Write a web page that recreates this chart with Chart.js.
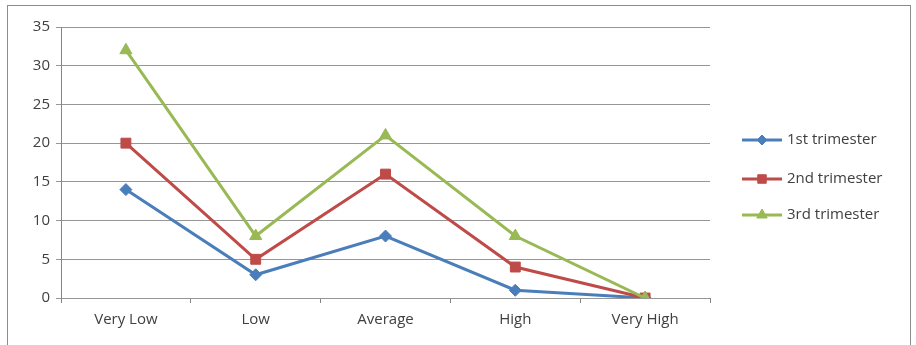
<!DOCTYPE html>
<html>
<head>
<meta charset="utf-8">
<script src="https://cdn.jsdelivr.net/npm/chart.js@4"></script>
<style>
  html, body { margin:0; padding:0; background:#fff; }
  #wrap { position:relative; width:916px; height:345px; }
  #frame { position:absolute; left:7px; top:5px; width:904px; height:345px; border:1px solid #8c8c8c; border-bottom:none; box-sizing:border-box; }
  canvas { position:absolute; left:0; top:0; }
</style>
</head>
<body>
<div id="wrap">
  <div id="frame"></div>
  <canvas id="chart" width="916" height="345"></canvas>
</div>
<script>
// Chart data
const categories = ['Very Low', 'Low', 'Average', 'High', 'Very High'];
const seriesNames = ['1st trimester', '2nd trimester', '3rd trimester'];
const firstTrimester = [14, 3, 8, 1, 0];
const secondTrimester = [20, 5, 16, 4, 0];
const thirdTrimester = [32, 8, 21, 8, 0];
const yTicks = [0, 5, 10, 15, 20, 25, 30, 35];

const colors = ['#4a7ebb', '#be4b48', '#98b954'];
const markers = ['rectRot', 'rect', 'triangle'];
const markerSizes = [6, 7, 7];

const FONT = '"Open Sans", Lato, sans-serif';

// Draws the legend on the right: short line with marker through it
const sideLegend = {
    id: 'sideLegend',
    afterDraw(chart) {
        const ctx = chart.ctx;
        const x0 = 742, ys = [140, 179, 215];
        chart.data.datasets.forEach((ds, i) => {
            const y = ys[i];
            ctx.save();
            ctx.strokeStyle = ds.borderColor;
            ctx.lineWidth = 3;
            ctx.beginPath();
            ctx.moveTo(x0, y);
            ctx.lineTo(x0 + 40, y);
            ctx.stroke();
            ctx.fillStyle = ds.borderColor;
            ctx.lineWidth = 1;
            Chart.helpers.drawPoint(ctx, {
                pointStyle: ds.pointStyle,
                radius: ds.pointRadius - 1,
                borderWidth: 1
            }, x0 + 20, y);
            ctx.fillStyle = '#404040';
            ctx.font = '15px ' + FONT;
            ctx.textBaseline = 'middle';
            ctx.fillText(seriesNames[i], x0 + 45, y);
            ctx.restore();
        });
    }
};

const seriesData = [firstTrimester, secondTrimester, thirdTrimester];

new Chart(document.getElementById('chart').getContext('2d'), {
    type: 'line',
    data: {
        labels: categories,
        datasets: seriesData.map((d, i) => ({
            label: seriesNames[i],
            data: d,
            order: 2 - i, // later series drawn on top
            borderColor: colors[i],
            backgroundColor: colors[i],
            borderWidth: 3,
            pointStyle: markers[i],
            pointRadius: markerSizes[i],
            pointBorderWidth: 1,
            tension: 0
        }))
    },
    options: {
        responsive: false,
        animation: false,
        layout: { padding: { left: 14, right: 206, top: 27, bottom: 6 } },
        plugins: { legend: { display: false }, tooltip: { enabled: false } },
        scales: {
            x: {
                offset: true,
                grid: { display: true, offset: true, drawOnChartArea: false, tickLength: 5, color: '#868686' },
                border: { display: false },
                ticks: { color: '#404040', font: { family: FONT, size: 15 }, padding: 8 },
                afterFit(scale) { scale.height = 41; }
            },
            y: {
                min: 0,
                max: 35,
                afterBuildTicks(scale) { scale.ticks = yTicks.map(v => ({ value: v })); },
                grid: { color: '#969696', tickLength: 5, lineWidth: 1 },
                border: { display: true, color: '#868686' },
                ticks: { color: '#404040', font: { family: FONT, size: 15 }, padding: 6 },
                afterFit(scale) { scale.width = 47; }
            }
        }
    },
    plugins: [sideLegend]
});
</script>
</body>
</html>
